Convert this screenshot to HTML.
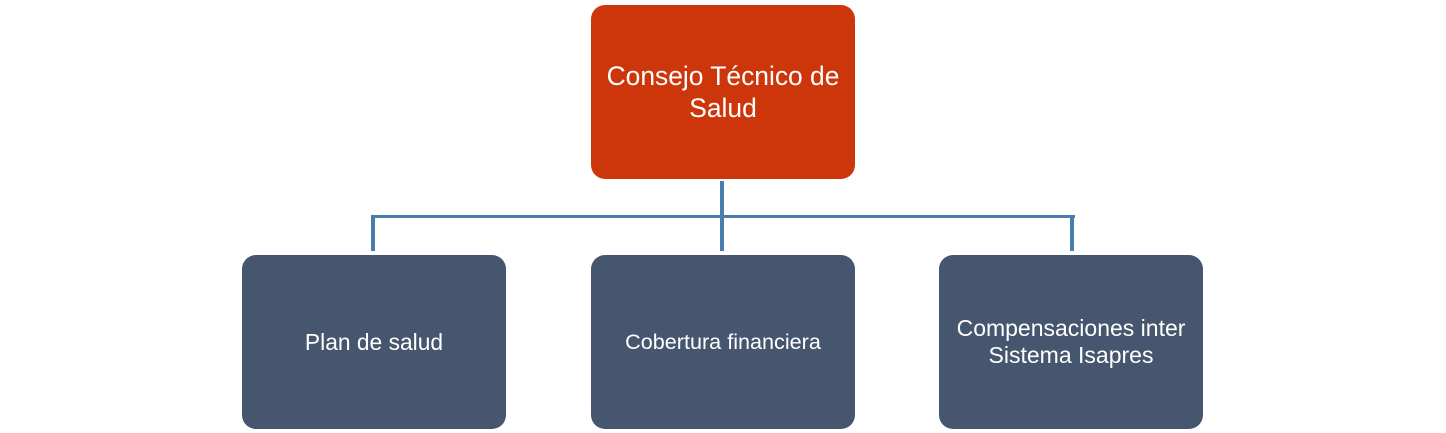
<!DOCTYPE html>
<html><head><style>
body{margin:0;width:1446px;height:433px;background:#fff;position:relative;overflow:hidden;font-family:"Liberation Sans","DejaVu Sans",sans-serif}
.b{position:absolute;width:264px;height:174px;border-radius:14px;color:#fff;display:flex;align-items:center;justify-content:center;text-align:center}
.l{position:absolute;background:#4A7DAE}
</style></head><body>
<div class="l" style="left:720px;top:181px;width:4px;height:70px"></div>
<div class="l" style="left:372px;top:215px;width:703px;height:3px"></div>
<div class="l" style="left:371px;top:215px;width:4px;height:36px"></div>
<div class="l" style="left:1070px;top:215px;width:4px;height:36px"></div>
<div class="b" style="left:591px;top:5px;background:#CD360A;font-size:26.4px;line-height:32px">Consejo Técnico de<br>Salud</div>
<div class="b" style="left:242px;top:255px;background:#46566E;font-size:22.8px">Plan de salud</div>
<div class="b" style="left:591px;top:255px;background:#46566E;font-size:21.6px">Cobertura financiera</div>
<div class="b" style="left:939px;top:255px;background:#46566E;font-size:23px;line-height:27px">Compensaciones inter<br>Sistema Isapres</div>
</body></html>
